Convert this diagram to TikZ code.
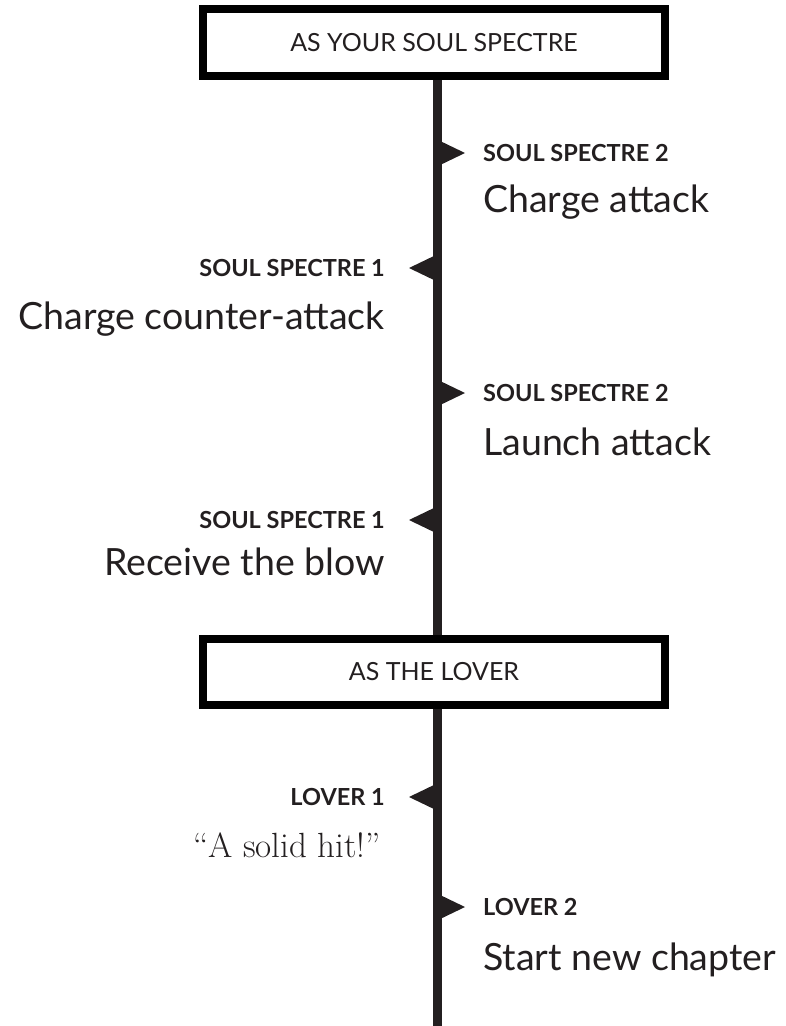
\documentclass[tikz,border=0pt]{standalone}
\usepackage{fontspec}
\setsansfont{Lato}
\renewcommand{\familydefault}{\sfdefault}
\usepackage{tikz}
\usetikzlibrary{positioning}
\definecolor{ink}{HTML}{231F20}
\tikzset{
  phase/.style={rectangle,draw=black,line width=8pt,fill=white,minimum width=462pt,minimum height=67pt,inner sep=0pt,text=ink,font=\fontsize{25}{30}\selectfont},
  who/.style={inner sep=0pt,text=ink,font=\fontsize{23.5}{28}\selectfont\bfseries},
  act/.style={inner sep=0pt,text=ink,font=\fontsize{37.5}{45}\selectfont},
  said/.style={inner sep=0pt,text=ink,font=\fontsize{35}{42}\selectfont\rmfamily}
}

\begin{document}
\begin{tikzpicture}[x=1pt,y=-1pt]
    \useasboundingbox (0,0) rectangle (785,1026);
    \coordinate (bot) at (437,1026);
    \node[phase] (soul) at (434,42.5) {AS YOUR SOUL SPECTRE};
    \draw[ink,line width=9pt] (soul.south -| bot) -- (bot);
    \node[phase,minimum height=66pt] (lover) at (434,672) {AS THE LOVER};
    % flags on the line
    \foreach \y/\s in {153/1,268/-1,393/1,520/-1,797/-1,907/1}
        \fill[ink] (437,\y-13.5) -- (\s*28+437,\y) -- (437,\y+13.5) -- cycle;
    \node[who,anchor=base west] (s2a) at (483,161) {SOUL SPECTRE 2};
    \node[act,anchor=base west] (a2a) at (483,212) {Charge attack};
    \node[who,anchor=base east] (s1a) at (385,276) {SOUL SPECTRE 1};
    \node[act,anchor=base east] (a1a) at (385,329) {Charge counter-attack};
    \node[who,anchor=base west] (s2b) at (483,401) {SOUL SPECTRE 2};
    \node[act,anchor=base west] (a2b) at (483,455) {Launch attack};
    \node[who,anchor=base east] (s1b) at (385,528) {SOUL SPECTRE 1};
    \node[act,anchor=base east] (a1b) at (385,575) {Receive the blow};
    \node[who,anchor=base east] (l1) at (385,805) {LOVER 1};
    \node[said,anchor=base east] (q1) at (381,857) {“A solid hit!”};
    \node[who,anchor=base west] (l2) at (483,915) {LOVER 2};
    \node[act,anchor=base west] (a2) at (483,970) {Start new chapter};
\end{tikzpicture}
\end{document}
